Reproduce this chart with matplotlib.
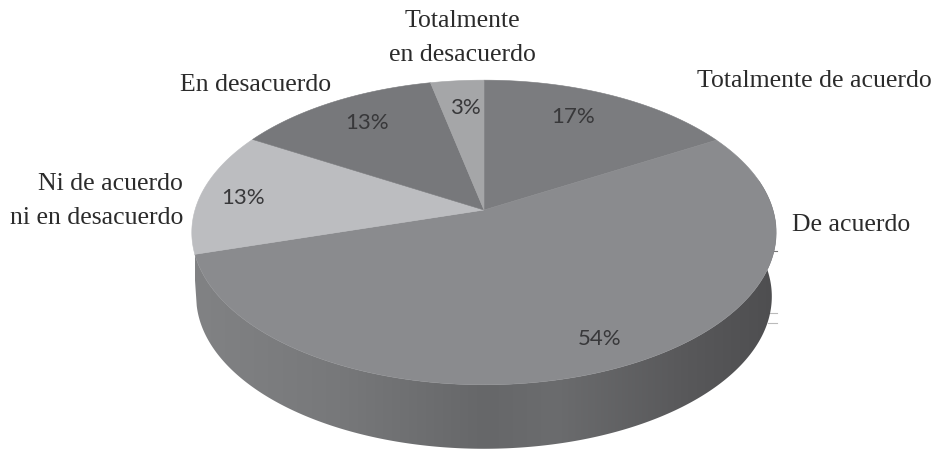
import numpy as np
import matplotlib
matplotlib.use("Agg")
import matplotlib.pyplot as plt
from matplotlib.patches import Polygon
from matplotlib.colors import LinearSegmentedColormap

# Datos del grafico (en sentido horario desde arriba)
categorias = ["Totalmente de acuerdo", "De acuerdo", "Ni de acuerdo\nni en desacuerdo",
              "En desacuerdo", "Totalmente\nen desacuerdo"]
valores = [16.6, 53.8, 13.1, 13.1, 3.4]
colores = ["#7b7c7f", "#8a8b8e", "#bcbdc0", "#77787b", "#a5a6a8"]

# Posicion de las etiquetas en pixeles
pos_categorias = [(814, 81), (851, 225), (183, 201), (256, 85), (462, 38)]
alin_categorias = ["center", "center", "right", "center", "center"]
pos_porcentajes = [(573, 117), (600, 339), (243, 198), (367, 123), (465, 108)]

# Degradado del lateral
grad_pos = [0.0, 0.25, 0.5, 0.62, 0.85, 1.0]
grad_col = ["#818284", "#77787a", "#666769", "#6b6c6e", "#58585a", "#4e4e50"]

# Parametros de la perspectiva
cx, cy = 484, 210
ax_x, ax_y, k = 289, 149, 0.1475
alto = 64
escala_base = 0.985


def proyectar(theta):
    u, v = np.sin(theta), np.cos(theta)
    w = 1 + k * v
    return cx + ax_x * u / w, cy - ax_y * v / w


fig = plt.figure(figsize=(9.4, 4.55), dpi=100)
ax = fig.add_axes([0, 0, 1, 1])
ax.set_xlim(0, 940)
ax.set_ylim(455, 0)
ax.axis("off")

# Lateral con degradado, recortado con la silueta
t = np.linspace(np.radians(78), np.radians(258), 300)
x, y = proyectar(t)
x_base = cx + (x - cx) * escala_base
lateral = np.column_stack([np.r_[x, x_base[::-1]], np.r_[y, y[::-1] + alto]])
clip = Polygon(lateral, closed=True, transform=ax.transData, facecolor="none", edgecolor="none")
ax.add_patch(clip)
cmap = LinearSegmentedColormap.from_list("lateral", list(zip(grad_pos, grad_col)))
im = ax.imshow(np.linspace(0, 1, 256).reshape(1, -1), cmap=cmap, aspect="auto",
               extent=(195, 776, 455, 0), zorder=1)
im.set_clip_path(clip)
ax.set_xlim(0, 940)
ax.set_ylim(455, 0)

# Cara superior
inicio = 0
for valor, color in zip(valores, colores):
    fin = inicio + valor
    t = np.linspace(inicio, fin, 120) / 100 * 2 * np.pi
    x, y = proyectar(t)
    puntos = np.column_stack([np.r_[cx, x], np.r_[cy, y]])
    ax.add_patch(Polygon(puntos, closed=True, facecolor=color, edgecolor=color, linewidth=0.4, zorder=2))
    inicio = fin

# Marcas sueltas junto al borde derecho
for ym, color in zip([251, 313, 323], ["#777777", "#bbbbbb", "#bbbbbb"]):
    ax.plot([768, 777], [ym, ym], color=color, linewidth=0.8, zorder=0)

for texto, (px, py), alin in zip(categorias, pos_categorias, alin_categorias):
    ax.text(px, py, texto, family="Liberation Serif", fontsize=18.5, color="#2b2b2b",
            ha=alin, va="center", multialignment=alin, linespacing=1.65, zorder=3)

for valor, (px, py) in zip(valores, pos_porcentajes):
    ax.text(px, py, f"{valor:.0f}%", family="Lato", fontsize=16, color="#38383a",
            ha="center", va="center", zorder=3)

fig.savefig("out.png", dpi=100)
